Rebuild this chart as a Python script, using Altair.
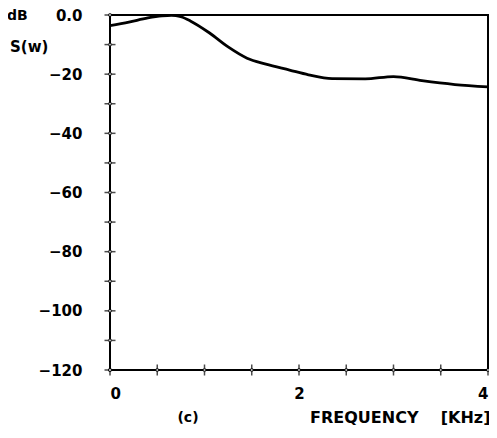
import altair as alt
import pandas as pd

# Curve (frequency in kHz, level in dB)
freq = [0.0, 0.2, 0.4, 0.55, 0.65, 0.75, 0.85, 1.05, 1.25, 1.45, 1.65, 1.9, 2.1, 2.35, 2.7, 3.0, 3.3, 3.65, 4.0]
level = [-3.6, -2.4, -1.0, -0.3, -0.1, -0.6, -2.0, -6.0, -10.8, -14.6, -16.6, -18.6, -20.2, -21.5, -21.6, -20.8, -22.2, -23.5, -24.3]

y_tick_values = [-120, -110, -100, -90, -80, -70, -60, -50, -40, -30, -20, -10, 0]
y_label_values = [-120, -100, -80, -60, -40, -20, 0]
x_tick_values = [0, 0.5, 1, 1.5, 2, 2.5, 3, 3.5, 4]
x_label_values = [0, 2, 4]

FONT = "DejaVu Sans"

curve = pd.DataFrame({"f": freq, "db": level})
yt = pd.DataFrame({"db": y_tick_values})
xt = pd.DataFrame({"f": x_tick_values})

xscale = alt.Scale(domain=[0, 4], nice=False)
yscale = alt.Scale(domain=[-120, 0], nice=False)

H = 355

line = alt.Chart(curve).mark_line(color="black", strokeWidth=2.8, interpolate="monotone").encode(
    x=alt.X("f:Q", scale=xscale,
            axis=alt.Axis(values=x_label_values, format="d",
                          title="FREQUENCY\u00a0\u00a0\u00a0\u00a0[KHz]", labelPadding=16,
                          titleAlign="right", titleX=380, titleY=47, titleBaseline="middle",
                          titleAnchor="end")),
    y=alt.Y("db:Q", scale=yscale,
            axis=alt.Axis(values=y_label_values, title=None, labelPadding=28,
                          labelExpr="datum.value == 0 ? '0.0' : datum.label")),
)

ytick_line = alt.Chart(yt).mark_point(shape="M-1,0L1,0", size=121, color="black", strokeWidth=1.5).encode(
    x=alt.value(0), y=alt.Y("db:Q", scale=yscale))
ytick_dot = alt.Chart(yt).mark_point(shape="circle", size=10, filled=True, fill="white",
                                      stroke="black", strokeWidth=1).encode(
    x=alt.value(0), y=alt.Y("db:Q", scale=yscale))
xtick_line = alt.Chart(xt).mark_point(shape="M0,-1L0,1", size=121, color="black", strokeWidth=1.5).encode(
    x=alt.X("f:Q", scale=xscale), y=alt.value(H))
xtick_dot = alt.Chart(xt).mark_point(shape="circle", size=10, filled=True, fill="white",
                                      stroke="black", strokeWidth=1).encode(
    x=alt.X("f:Q", scale=xscale), y=alt.value(H))

db_text = alt.Chart(pd.DataFrame({"t": ["dB"]})).mark_text(
    font=FONT, fontWeight="bold", fontSize=14, align="left", baseline="alphabetic").encode(
    x=alt.value(-103), y=alt.value(5), text="t:N")
s_text = alt.Chart(pd.DataFrame({"t": ["S(w)"]})).mark_text(
    font=FONT, fontWeight="bold", fontSize=15, align="left", baseline="middle").encode(
    x=alt.value(-100), y=alt.value(32), text="t:N")
c_text = alt.Chart(pd.DataFrame({"t": ["(c)"]})).mark_text(
    font=FONT, fontWeight="bold", fontSize=14, align="center", baseline="middle").encode(
    x=alt.value(78), y=alt.value(403), text="t:N")

chart = alt.layer(line, ytick_line, ytick_dot, xtick_line, xtick_dot, db_text, s_text, c_text).properties(
    width=378, height=H,
    autosize=alt.AutoSizeParams(type="none"),
    padding={"left": 102, "top": 7, "right": 1, "bottom": 58},
).configure_view(
    stroke="black", strokeWidth=2
).configure_axis(
    domain=False, ticks=False, tickSize=0, grid=False,
    labelFont=FONT, labelFontWeight="bold", labelFontSize=15, labelColor="black",
    titleFont=FONT, titleFontWeight="bold", titleFontSize=16, titleColor="black",
).configure_axisY(labelAlign="right", labelBaseline="middle")

chart.save("out.html", embed_options={"renderer": "svg", "actions": False})
